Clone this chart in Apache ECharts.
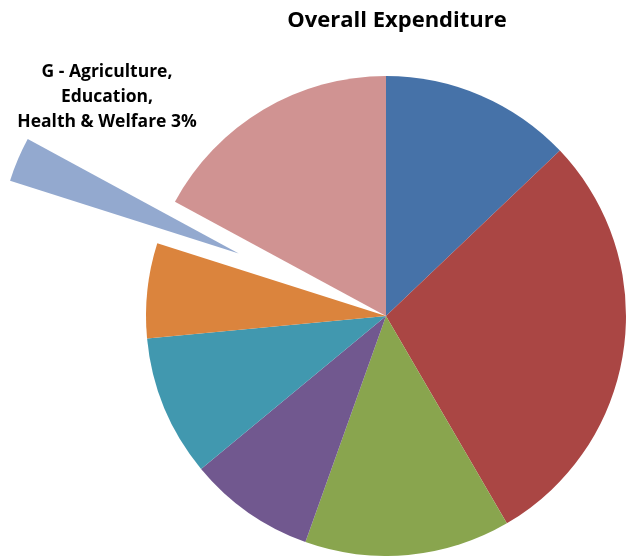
<!DOCTYPE html>
<html>
<head>
<meta charset="utf-8">
<script src="https://cdn.jsdelivr.net/npm/echarts@6/dist/echarts.min.js"></script>
<style>
  html, body { margin: 0; padding: 0; background: #ffffff; }
  #chart { width: 633px; height: 556px; }
</style>
</head>
<body>
<div id="chart"></div>
<script>
// Expenditure categories (clockwise from 12 o'clock) and their shares in percent
const categories = ['A', 'B', 'C', 'D', 'E', 'F', 'G - Agriculture,\nEducation,\nHealth & Welfare', 'H'];
const shares = [12.9, 28.7, 13.85, 8.55, 9.5, 6.4, 3, 17.1];
const sliceColors = ['#4672A8', '#AA4644', '#89A54E', '#71588F', '#4198AF', '#DB843D', '#93A9CF', '#D09392'];
// Category that is pulled out of the pie and labelled
const highlighted = 6;

const total = shares.reduce((a, b) => a + b, 0);
const calloutText = categories[highlighted] + ' ' + Math.round(shares[highlighted] / total * 100) + '%';

const FONT = '"Open Sans", sans-serif';

const chart = echarts.init(document.getElementById('chart'), null, { renderer: 'canvas' });

const data = shares.map((v, i) => ({
  name: categories[i],
  value: v,
  selected: i === highlighted,
  itemStyle: { color: sliceColors[i] }
}));

chart.setOption({
  animation: false,
  title: {
    text: 'Overall Expenditure',
    left: 392,
    top: 5,
    textAlign: 'center',
    textStyle: {
      fontFamily: FONT,
      fontWeight: 'bold',
      fontSize: 22,
      color: '#000000'
    }
  },
  graphic: [{
    type: 'text',
    x: 107,
    y: 97,
    silent: true,
    style: {
      text: calloutText,
      align: 'center',
      verticalAlign: 'middle',
      fontFamily: FONT,
      fontWeight: 'bold',
      fontSize: 17.5,
      lineHeight: 25,
      fill: '#000000'
    }
  }],
  series: [{
    type: 'pie',
    center: [386, 316],
    radius: [0, 240],
    startAngle: 90,
    clockwise: true,
    selectedMode: 'single',
    selectedOffset: 160,
    emphasis: { disabled: true },
    itemStyle: { borderWidth: 0 },
    label: { show: false },
    labelLine: { show: false },
    data: data
  }]
});
</script>
</body>
</html>
